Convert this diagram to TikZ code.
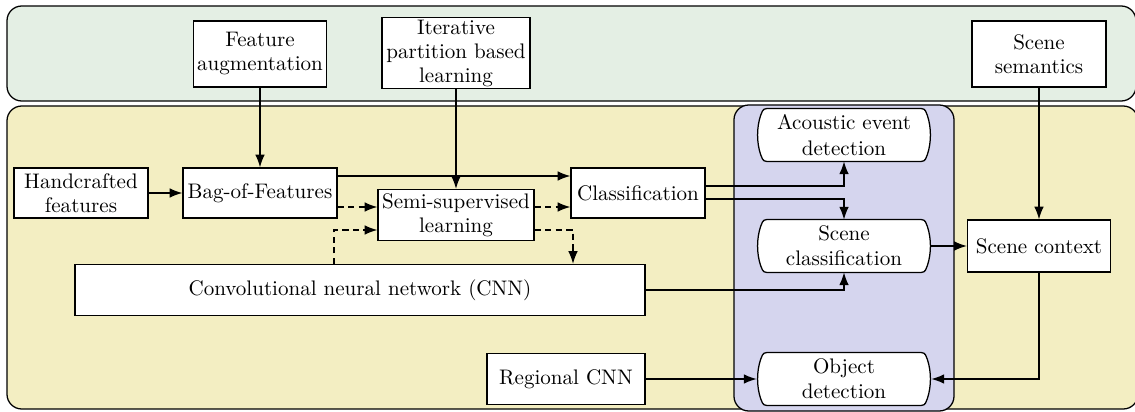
\documentclass[tikz,border=0pt]{standalone}
\usetikzlibrary{arrows.meta,calc,backgrounds}
\newcommand\pxu{0.475pt}
\definecolor{panelgreen}{HTML}{E4EFE4}
\definecolor{panelyellow}{HTML}{F3EEC2}
\definecolor{panelblue}{HTML}{D5D5EE}
\tikzset{
  panel/.style={draw=black, line width=0.6pt, rounded corners=7pt},
  box/.style={draw=black, fill=white, line width=0.6pt, align=center, inner sep=1pt,
              font=\linespread{0.95}\selectfont},
  task/.style={rectangle, align=center, inner sep=1pt,
               minimum width=174*\pxu, minimum height=52*\pxu},
  taskline/.style={draw=black, fill=white, line width=0.6pt},
  arr/.style={-{Latex[length=6pt,width=4.5pt]}, line width=0.6pt},
  darr/.style={arr, dash pattern=on 3pt off 2pt},
}
% outline of a task node: straight top and bottom, softly bulging sides
\newcommand\taskshape[1]{%
  \path[taskline]
    ($(#1.north west)+(10,0)$) -- ($(#1.north east)+(-10,0)$)
    .. controls ($(#1.north east)+(-6,0)$) and ($(#1.north east)+(-5,4)$) .. ($(#1.north east)+(-4,7)$)
    .. controls ($(#1.north east)+(0,19)$) and ($(#1.south east)+(0,-19)$) .. ($(#1.south east)+(-4,-7)$)
    .. controls ($(#1.south east)+(-5,-4)$) and ($(#1.south east)+(-6,0)$) .. ($(#1.south east)+(-10,0)$)
    -- ($(#1.south west)+(10,0)$)
    .. controls ($(#1.south west)+(6,0)$) and ($(#1.south west)+(5,-4)$) .. ($(#1.south west)+(4,-7)$)
    .. controls ($(#1.south west)+(0,-19)$) and ($(#1.north west)+(0,19)$) .. ($(#1.north west)+(4,7)$)
    .. controls ($(#1.north west)+(5,4)$) and ($(#1.north west)+(6,0)$) .. cycle;}
\begin{document}
\begin{tikzpicture}[x=0.475pt, y=-0.475pt]
\useasboundingbox (0,0) rectangle (1135,412);

% background panels
\begin{scope}[on background layer]
\draw[panel, fill=panelgreen]  (7,6) rectangle (1136,101);
\draw[panel, fill=panelyellow] (7,106) rectangle (1138,409);
\draw[panel, fill=panelblue]   (734,105) rectangle (954,411);
\end{scope}

% top row
\node[box, minimum width=133*\pxu, minimum height=66*\pxu] (fa)   at (260,54)  {Feature\\augmentation};
\node[box, minimum width=148*\pxu, minimum height=68*\pxu] (iter) at (456,53)  {Iterative\\partition based\\learning};
\node[box, minimum width=134*\pxu, minimum height=66*\pxu] (ss)   at (1039,54) {Scene\\semantics};

% processing chain
\node[box, minimum width=134*\pxu, minimum height=50*\pxu] (hand) at (81,193)  {Handcrafted\\features};
\node[box, minimum width=154*\pxu, minimum height=50*\pxu] (bof)  at (260,193) {Bag-of-Features};
\node[box, minimum width=156*\pxu, minimum height=51*\pxu] (semi) at (456,215) {Semi-supervised\\learning};
\node[box, minimum width=134*\pxu, minimum height=50*\pxu] (cls)  at (638,193) {Classification};
\node[box, minimum width=570*\pxu, minimum height=51*\pxu] (cnn)  at (360,290) {Convolutional neural network (CNN)};
\node[box, minimum width=158*\pxu, minimum height=51*\pxu] (rcnn) at (566,379) {Regional CNN};

% tasks
\node[task] (aed) at (844,135) {Acoustic event\\detection};
\node[task] (sc)  at (844,246) {Scene\\classification};
\node[task] (od)  at (844,379) {Object\\detection};
\node[box, minimum width=143*\pxu, minimum height=52*\pxu] (ctx) at (1039,246) {Scene context};

\begin{scope}[on background layer]
\taskshape{aed}
\taskshape{sc}
\taskshape{od}
\end{scope}

% connectors
\draw[arr] (fa.south) -- (bof.north);
\draw[arr] (iter.south) -- (semi.north);
\draw[arr] (ss.south) -- (ctx.north);
\draw[arr] (hand.east) -- (bof.west);
\draw[arr] ([yshift=17*\pxu]bof.east) -- ([yshift=17*\pxu]cls.west);
\draw[darr] ([yshift=-14*\pxu]bof.east) coordinate (lb) -- (lb -| semi.west);
\draw[darr] (lb -| semi.east) -- (lb -| cls.west);
\draw[darr] ([xshift=-26*\pxu]cnn.north) |- ([yshift=-15*\pxu]semi.west);
\draw[darr] ([yshift=-15*\pxu]semi.east) -| ([xshift=213*\pxu]cnn.north);
\draw[arr] ([yshift=7*\pxu]cls.east) -| (aed.south);
\draw[arr] ([yshift=-6*\pxu]cls.east) -| (sc.north);
\draw[arr] (cnn.east) -| (sc.south);
\draw[arr] (sc.east) -- (ctx.west);
\draw[arr] (rcnn.east) -- (od.west);
\draw[arr] (ctx.south) |- (od.east);
\end{tikzpicture}
\end{document}
